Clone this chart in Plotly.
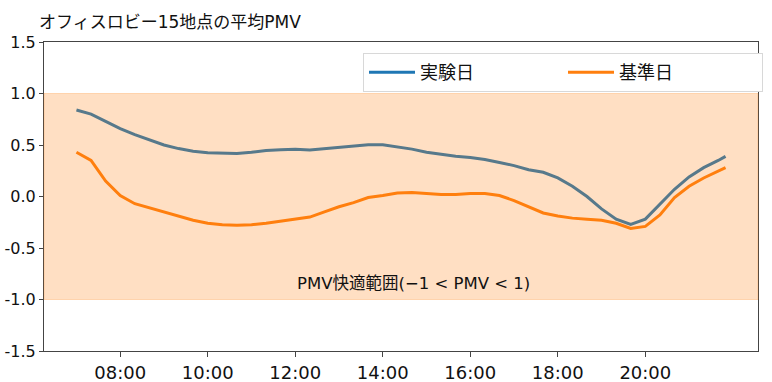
import plotly.graph_objects as go

times = ["07:00", "07:20", "07:40", "08:00", "08:20", "08:40", "09:00", "09:20", "09:40",
         "10:00", "10:20", "10:40", "11:00", "11:20", "11:40", "12:00", "12:20", "12:40",
         "13:00", "13:20", "13:40", "14:00", "14:20", "14:40", "15:00", "15:20", "15:40",
         "16:00", "16:20", "16:40", "17:00", "17:20", "17:40", "18:00", "18:20", "18:40",
         "19:00", "19:20", "19:40", "20:00", "20:20", "20:40", "21:00", "21:20", "21:40", "21:50"]

experiment_day = [0.84, 0.80, 0.73, 0.66, 0.60, 0.55, 0.50, 0.465, 0.44,
                  0.425, 0.418, 0.418, 0.43, 0.447, 0.455, 0.458, 0.452, 0.465,
                  0.478, 0.49, 0.503, 0.503, 0.485, 0.46, 0.43, 0.41, 0.39,
                  0.378, 0.36, 0.33, 0.30, 0.26, 0.235, 0.18, 0.10, 0.00,
                  -0.12, -0.22, -0.27, -0.22, -0.08, 0.07, 0.19, 0.28, 0.35, 0.39]

reference_day = [0.43, 0.35, 0.15, 0.01, -0.07, -0.11, -0.15, -0.19, -0.23,
                 -0.26, -0.275, -0.28, -0.275, -0.26, -0.24, -0.22, -0.20, -0.15,
                 -0.10, -0.06, -0.01, 0.01, 0.035, 0.04, 0.03, 0.02, 0.02,
                 0.03, 0.03, 0.01, -0.04, -0.10, -0.16, -0.19, -0.21, -0.22,
                 -0.23, -0.26, -0.31, -0.29, -0.18, -0.01, 0.10, 0.18, 0.25, 0.28]

series_names = ["実験日", "基準日"]
series_colors = ["#1f77b4", "#ff7f0e"]
y_ticks = [-1.5, -1.0, -0.5, 0.0, 0.5, 1.0, 1.5]
y_tick_labels = ["-1.5", "-1.0", "-0.5", "0.0", "0.5", "1.0", "1.5"]
x_ticks = ["08:00", "10:00", "12:00", "14:00", "16:00", "18:00", "20:00"]
comfort_low, comfort_high = -1.0, 1.0
title_text = "オフィスロビー15地点の平均PMV"
band_label = "PMV快適範囲(−1 < PMV < 1)"

day = "2024-01-01 "
x = [day + t for t in times]

FONT = "DejaVu Sans, Noto Sans CJK JP, sans-serif"

fig = go.Figure()
for name, vals, col in zip(series_names, [experiment_day, reference_day], series_colors):
    fig.add_trace(go.Scatter(x=x, y=vals, mode="lines", name=name,
                             line=dict(color=col, width=3)))

fig.add_shape(type="rect", xref="paper", x0=0, x1=1, yref="y", y0=comfort_low, y1=comfort_high,
              fillcolor="rgba(255,127,14,0.25)", line=dict(color="rgba(255,127,14,0.25)", width=1),
              layer="above")

fig.add_annotation(x=day + "14:42", y=-0.84, text=band_label, showarrow=False,
                   font=dict(size=16.5, color="#111", family=FONT))

fig.update_layout(
    width=772, height=382,
    margin=dict(l=44, r=14, t=42, b=31, autoexpand=False),
    paper_bgcolor="white", plot_bgcolor="white",
    font=dict(family=FONT, color="#111"),
    title=dict(text=title_text, xref="container", yref="container", x=39/772, y=1-22/382,
               xanchor="left", yanchor="middle", font=dict(size=17, color="#111", family=FONT)),
    showlegend=True,
    legend=dict(orientation="h", x=(363-44)/714, y=1-(53-42)/309, xanchor="left", yanchor="top",
                bgcolor="white", bordercolor="#d8d8d8", borderwidth=1, itemwidth=46,
                font=dict(size=18, family=FONT, color="#111"), entrywidth=138),
)
fig.update_xaxes(type="date", range=[day + "06:15:30", day + "22:34:30"], automargin=False,
                 tickvals=[day + t for t in x_ticks], ticktext=x_ticks,
                 showline=True, linecolor="#444", linewidth=1, mirror=True,
                 ticks="outside", ticklen=5, tickcolor="#444", showgrid=False, zeroline=False,
                 tickfont=dict(size=18, family=FONT, color="#111"))
fig.update_yaxes(range=[-1.5, 1.5], tickvals=y_ticks, automargin=False,
                 ticktext=y_tick_labels,
                 showline=True, linecolor="#444", linewidth=1, mirror=True,
                 ticks="outside", ticklen=4, tickcolor="#444", showgrid=False, zeroline=False,
                 tickfont=dict(size=16, family=FONT, color="#111"))

fig.write_html("out.html", config={"displayModeBar": False},
               post_script="document.body.style.margin='0';document.body.style.overflow='hidden';")
